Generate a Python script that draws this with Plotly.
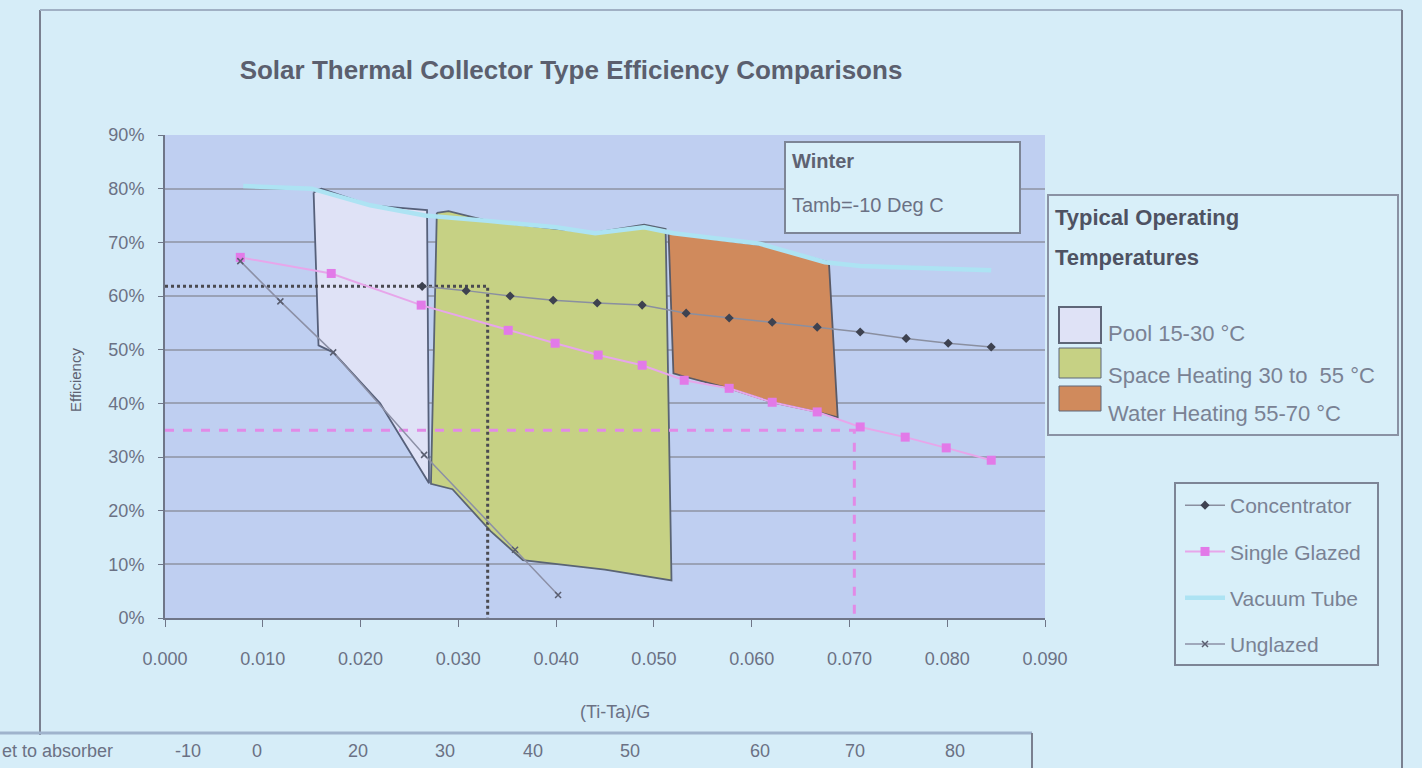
import plotly.graph_objects as go

# ---------------- data ----------------
conc_x = [0.0263, 0.0308, 0.0353, 0.0397, 0.0442, 0.0488, 0.0533, 0.0577, 0.0621, 0.0667, 0.0711, 0.0758, 0.0801, 0.0845]
conc_y = [61.8, 61.0, 60.0, 59.2, 58.7, 58.3, 56.8, 55.9, 55.1, 54.2, 53.3, 52.1, 51.2, 50.5]

sg_x = [0.0077, 0.0170, 0.0262, 0.0351, 0.0399, 0.0443, 0.0488, 0.0531, 0.0577, 0.0621, 0.0667, 0.0711, 0.0757, 0.0799, 0.0845]
sg_y = [67.2, 64.2, 58.3, 53.6, 51.2, 49.0, 47.1, 44.3, 42.8, 40.2, 38.4, 35.6, 33.7, 31.7, 29.4]

vt_x = [0.0080, 0.0150, 0.0210, 0.0266, 0.0330, 0.0400, 0.0440, 0.0490, 0.0520, 0.0607, 0.0675, 0.0711, 0.0757, 0.0801, 0.0845]
vt_y = [80.5, 80.0, 76.9, 75.0, 74.0, 72.8, 71.7, 72.8, 71.7, 69.8, 66.3, 65.6, 65.3, 65.0, 64.8]

ung_x = [0.0077, 0.0118, 0.0172, 0.0265, 0.0358, 0.0402]
ung_y = [66.5, 59.0, 49.5, 30.4, 12.7, 4.3]

pool_x = [0.0152, 0.0157, 0.0172, 0.0220, 0.0270, 0.0268, 0.0210, 0.0160, 0.0152]
pool_y = [79.3, 50.8, 49.5, 40.0, 25.1, 76.0, 76.9, 80.0, 79.3]

space_x = [0.0278, 0.0272, 0.0294, 0.0333, 0.0366, 0.0450, 0.0518, 0.0512, 0.0490, 0.0440, 0.0400, 0.0330, 0.0290, 0.0278]
space_y = [75.5, 25.0, 24.0, 16.2, 10.8, 9.0, 7.0, 72.5, 73.3, 71.8, 72.5, 74.0, 75.8, 75.5]

water_x = [0.0515, 0.0520, 0.0531, 0.0577, 0.0621, 0.0667, 0.0688, 0.0679, 0.0610, 0.0515]
water_y = [71.7, 45.6, 45.0, 42.8, 40.2, 38.4, 37.4, 66.3, 69.5, 71.7]

ref_black_x = [0.0, 0.0330, 0.0330]
ref_black_y = [61.8, 61.8, 0.0]
ref_pink_x = [0.0, 0.0705, 0.0705]
ref_pink_y = [35.0, 35.0, 0.0]

x_ticks = [0.0, 0.01, 0.02, 0.03, 0.04, 0.05, 0.06, 0.07, 0.08, 0.09]
x_ticklabels = ["0.000", "0.010", "0.020", "0.030", "0.040", "0.050", "0.060", "0.070", "0.080", "0.090"]
y_ticks = [0, 10, 20, 30, 40, 50, 60, 70, 80, 90]
y_ticklabels = ["0%", "10%", "20%", "30%", "40%", "50%", "60%", "70%", "80%", "90%"]

region_names = ["Pool 15-30 °C", "Space Heating 30 to  55 °C", "Water Heating 55-70 °C"]
region_fills = ["#dfe2f6", "#c6d184", "#d08a5c"]
legend1_title = ["Typical Operating", "Temperatures"]

inlet_label = "et to absorber"
inlet_vals = ["-10", "0", "20", "30", "40", "50", "60", "70", "80"]

# ---------------- layout helpers ----------------
W, H = 1422, 768
L, R, T, B = 165, 1045, 135, 618


def px(xp):
    return (xp - L) / (R - L)


def py(yp):
    return (B - yp) / (B - T)


SLIDE = "#d6edf8"
BOXBG = "#d8eff9"
PLOT = "#bfcff1"
TXT = "#6b7184"
LEGTXT = "#7a8294"
FONT = "Liberation Sans"

fig = go.Figure()

# regions
region_outlines = ["#56607a", "#5a6474", "#5a5a66"]
for rx, ry, nm, fc, lc in zip([pool_x, space_x, water_x], [pool_y, space_y, water_y],
                              region_names, region_fills, region_outlines):
    fig.add_trace(go.Scatter(x=rx, y=ry, fill="toself", mode="lines",
                             fillcolor=fc, line=dict(color=lc, width=1.8),
                             name=nm, showlegend=False))

# reference lines
fig.add_trace(go.Scatter(x=ref_black_x, y=ref_black_y, mode="lines",
                         line=dict(color="#4a4a50", width=3, dash="dot"),
                         showlegend=False, hoverinfo="skip"))
fig.add_trace(go.Scatter(x=ref_pink_x, y=ref_pink_y, mode="lines",
                         line=dict(color="#e28ae6", width=3, dash="dash"),
                         showlegend=False, hoverinfo="skip"))

# series (legend)
fig.add_trace(go.Scatter(x=vt_x, y=vt_y, mode="lines", name="Vacuum Tube",
                         line=dict(color="#ade3f3", width=4.5),
                         legendrank=3))
fig.add_trace(go.Scatter(x=conc_x, y=conc_y, mode="lines+markers", name="Concentrator",
                         line=dict(color="#8a8fa0", width=1.5),
                         marker=dict(symbol="diamond", size=7, color="#3e4250"),
                         legendrank=1))
fig.add_trace(go.Scatter(x=sg_x, y=sg_y, mode="lines+markers", name="Single Glazed",
                         line=dict(color="#e7a6ea", width=2),
                         marker=dict(symbol="square", size=9, color="#e27ae8"),
                         legendrank=2))
fig.add_trace(go.Scatter(x=ung_x, y=ung_y, mode="lines+markers", name="Unglazed",
                         line=dict(color="#8c90a6", width=1.5),
                         marker=dict(symbol="x-thin", size=6, color="#5a5e70",
                                     line=dict(width=1.5, color="#5a5e70")),
                         legendrank=4))

# annotation box inside plot
fig.add_shape(type="rect", xref="paper", yref="paper",
              x0=px(785), x1=px(1020), y0=py(233), y1=py(142),
              fillcolor=BOXBG, line=dict(color="#7d8596", width=2), layer="above")
fig.add_annotation(xref="paper", yref="paper", x=px(790), y=py(161), text="<b>Winter</b>",
                   showarrow=False, xanchor="left", yanchor="middle",
                   font=dict(family=FONT, size=20, color="#5e6272"))
fig.add_annotation(xref="paper", yref="paper", x=px(790), y=py(205), text="Tamb=-10 Deg C",
                   showarrow=False, xanchor="left", yanchor="middle",
                   font=dict(family=FONT, size=20, color=TXT))

# legend box 1 (operating temperatures), drawn with shapes + text
fig.add_shape(type="rect", xref="paper", yref="paper",
              x0=px(1048), x1=px(1398), y0=py(435), y1=py(195),
              fillcolor=BOXBG, line=dict(color="#8a92a4", width=2), layer="below")
for i, t in enumerate(legend1_title):
    fig.add_annotation(xref="paper", yref="paper", x=px(1053), y=py(217 + 40 * i), text="<b>" + t + "</b>",
                       showarrow=False, xanchor="left", yanchor="middle",
                       font=dict(family=FONT, size=22, color="#4e5262"))
sw_top = [307, 348, 386]
sw_bot = [343, 378, 411]
txt_y = [333, 375, 413]
for i, (nm, fc) in enumerate(zip(region_names, region_fills)):
    fig.add_shape(type="rect", xref="paper", yref="paper",
                  x0=px(1059), x1=px(1101), y0=py(sw_bot[i]), y1=py(sw_top[i]),
                  fillcolor=fc, line=dict(color="#5e6678", width=2 if i == 0 else 1), layer="above")
    fig.add_annotation(xref="paper", yref="paper", x=px(1106), y=py(txt_y[i]), text=nm,
                       showarrow=False, xanchor="left", yanchor="middle",
                       font=dict(family=FONT, size=22, color=LEGTXT))

# legend box 2
fig.add_shape(type="rect", xref="paper", yref="paper",
              x0=px(1175), x1=px(1378), y0=py(665), y1=py(483),
              fillcolor=BOXBG, line=dict(color="#7d8596", width=2), layer="below")

# chart frame
fig.add_shape(type="line", xref="paper", yref="paper", x0=px(40), x1=px(40), y0=py(735), y1=py(10),
              line=dict(color="#7a8090", width=2))
fig.add_shape(type="line", xref="paper", yref="paper", x0=px(40), x1=px(1402), y0=py(10), y1=py(10),
              line=dict(color="#a0b0c4", width=2))
fig.add_shape(type="line", xref="paper", yref="paper", x0=px(1402), x1=px(1402), y0=py(10), y1=py(768),
              line=dict(color="#7a8090", width=2))

# axis titles
fig.add_annotation(xref="paper", yref="paper", x=px(75), y=py(380), text="Efficiency",
                   textangle=-90, showarrow=False, xanchor="center", yanchor="middle",
                   font=dict(family=FONT, size=15, color="#5e6272"))
fig.add_annotation(xref="paper", yref="paper", x=px(615), y=py(712), text="(Ti-Ta)/G",
                   showarrow=False, xanchor="center", yanchor="middle",
                   font=dict(family=FONT, size=18, color=TXT))

# bottom table row
fig.add_shape(type="line", xref="paper", yref="paper", x0=px(0), x1=px(1032), y0=py(733), y1=py(733),
              line=dict(color="#9fb3cc", width=3))
fig.add_shape(type="line", xref="paper", yref="paper", x0=px(1032), x1=px(1032), y0=py(733), y1=py(768),
              line=dict(color="#7a8090", width=2))
fig.add_annotation(xref="paper", yref="paper", x=px(0), y=py(751), text=inlet_label,
                   showarrow=False, xanchor="left", yanchor="middle",
                   font=dict(family=FONT, size=18, color=TXT))
inlet_px = [188, 257, 358, 445, 533, 630, 760, 855, 955]
for v, xp in zip(inlet_vals, inlet_px):
    fig.add_annotation(xref="paper", yref="paper", x=px(xp), y=py(751), text=v,
                       showarrow=False, xanchor="center", yanchor="middle",
                       font=dict(family=FONT, size=18, color=TXT))

fig.update_layout(
    width=W, height=H,
    margin=dict(l=L, r=W - R, t=T, b=H - B),
    paper_bgcolor=SLIDE, plot_bgcolor=PLOT,
    font=dict(family=FONT, color=TXT),
    title=dict(text="<b>Solar Thermal Collector Type Efficiency Comparisons</b>",
               x=571 / W, y=1 - 70 / H, xref="container", yref="container",
               xanchor="center", yanchor="middle",
               font=dict(family=FONT, size=26, color="#5b5f6e")),
    xaxis=dict(range=[0, 0.09], tickvals=x_ticks, ticktext=x_ticklabels,
               showgrid=False, zeroline=False, showline=True, linecolor="#6f7688", linewidth=2,
               ticks="outside", ticklen=7, tickcolor="#6f7688", ticklabelstandoff=16,
               tickfont=dict(family=FONT, size=18, color=TXT)),
    yaxis=dict(range=[0, 90], tickvals=y_ticks, ticktext=y_ticklabels,
               showgrid=True, gridcolor="#9aa2b6", gridwidth=2, zeroline=False,
               showline=True, linecolor="#6f7688", linewidth=2,
               ticks="outside", ticklen=5, tickcolor="#6f7688", ticklabelstandoff=10,
               tickfont=dict(family=FONT, size=18, color=TXT)),
    legend=dict(x=px(1180), y=py(485), xanchor="left", yanchor="top",
                bgcolor="rgba(0,0,0,0)", borderwidth=0,
                font=dict(family=FONT, size=21, color=LEGTXT),
                traceorder="normal", tracegroupgap=16, itemwidth=40),
    showlegend=True,
)
# each legend entry in its own group so the group gap sets the row spacing
for tr in fig.data:
    if tr.showlegend is not False:
        tr.legendgroup = tr.name

fig.update_layout(legend_traceorder="grouped")

fig.write_html("out.html", config={"displayModeBar": False},
               post_script="document.body.style.margin='0';document.body.style.padding='0';")
